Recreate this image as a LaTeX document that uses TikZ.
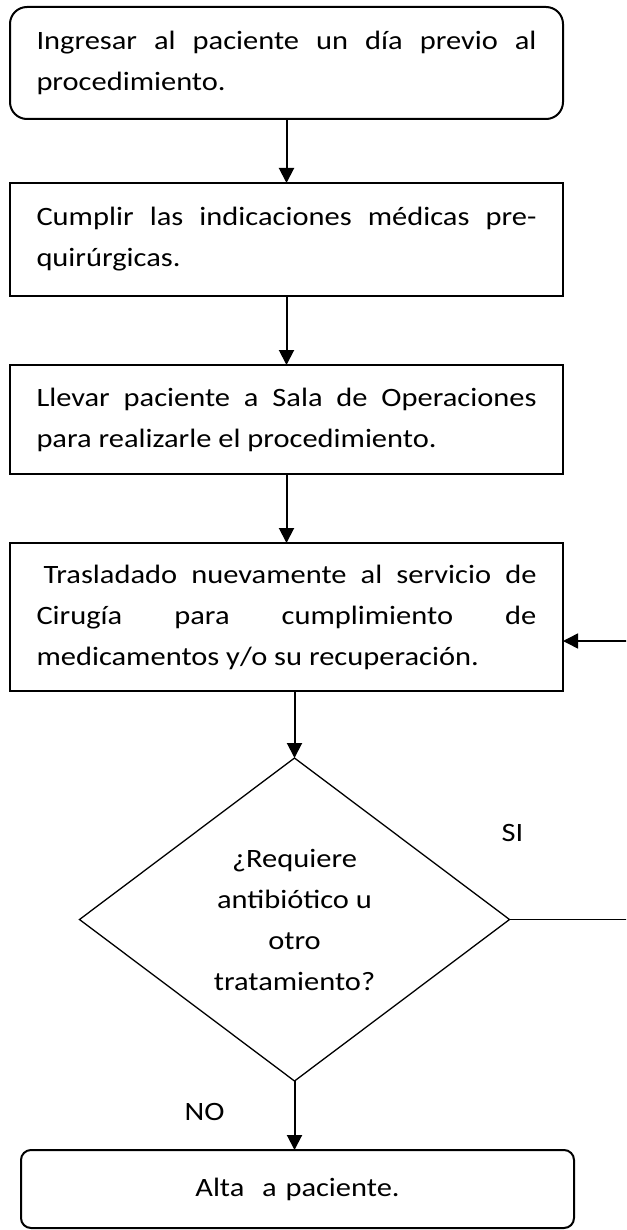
\documentclass[tikz,border=0pt]{standalone}
\usepackage{fontspec}
\setmainfont{Carlito}[FakeStretch=1.15]
\usetikzlibrary{arrows.meta,shapes.geometric,positioning,calc}
\hbadness=10000
\tikzset{box/.style ={
        rectangle,
        draw=black,
        line width=2pt,
        outer sep=0pt,
        inner xsep=0pt,
        minimum width=553pt,
        text width=500pt,
        align=justify,
        font=\fontsize{26.5pt}{41pt}\selectfont
    },
    decision/.style ={
        diamond,
        draw=black,
        line width=1.3pt,
        outer sep=0pt,
        inner sep=0pt,
        shape aspect=1.33,
        minimum width=430pt,
        minimum height=323pt,
        align=center,
        font=\fontsize{26.5pt}{41pt}\selectfont
    },
    lbl/.style ={
        font=\fontsize{26.5pt}{30pt}\selectfont
    }}

\begin{document}
\begin{tikzpicture}
    [
    a/.style={
        -{Triangle[length=15pt,width=15pt]},
        line width=2pt
    },
    back/.style={
        -{Triangle[length=15pt,width=15pt]},
        line width=1.5pt
    }
    ]
    \useasboundingbox (0,0) rectangle (626pt,-1230pt);
    \clip (0,0) rectangle (626pt,-1230pt);
    \node (ingreso)[box,rounded corners=17pt,minimum height=112pt] at (286.5pt,-63pt)
        {Ingresar al paciente un día previo al\linebreak procedimiento.};
    \node (indica)[box,minimum height=113pt,below=64pt of ingreso]
        {Cumplir las indicaciones médicas pre-\linebreak quirúrgicas.};
    \node (sala)[box,minimum height=109pt,below=69pt of indica]
        {Llevar paciente a Sala de Operaciones\linebreak para realizarle el procedimiento.};
    \node (traslado)[box,minimum height=148pt,below=69pt of sala]
        {\hspace*{7pt}Trasladado nuevamente al servicio de\linebreak Cirugía para cumplimiento de\linebreak medicamentos y/o su recuperación.};
    \node (requiere)[decision,below=67pt of traslado,xshift=8pt]
        {¿Requiere\\antibiótico u\\otro\\tratamiento?};
    \node (alta)[box,rounded corners=10pt,minimum height=78pt,align=center,below=69pt of requiere,xshift=3pt]
        {Alta~ a paciente.};

    \node (si)[lbl] at ($(requiere.east)+(3pt,87pt)$) {SI};
    \node (no)[lbl] at ($(requiere.south)+(-90pt,-31pt)$) {NO};

    \coordinate (vuelta) at ($(requiere.east)+(125pt,0)$);

    \draw[a] (ingreso) -- (indica);
    \draw[a] (indica) -- (sala);
    \draw[a] (sala) -- (traslado);
    \draw[a] (traslado.south -| requiere.north) -- (requiere.north);
    \draw[a] (requiere.south) -- (requiere.south |- alta.north);
    \draw[back] (requiere.east) -- (vuelta) |- ([yshift=-24pt]traslado.east);
\end{tikzpicture}
\end{document}
